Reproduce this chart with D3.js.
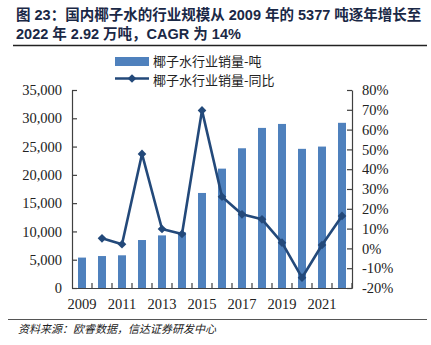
<!DOCTYPE html>
<html>
<head>
<meta charset="utf-8">
<script src="https://cdn.jsdelivr.net/npm/d3@7"></script>
<style>
  body { margin: 0; background: #fff; }
  svg { display: block; }
</style>
</head>
<body>
<svg width="431" height="345"></svg>
<script>
// 椰子水行业销量（吨）与同比增速
var years = ["2009", "2010", "2011", "2012", "2013", "2014", "2015", "2016", "2017", "2018", "2019", "2020", "2021", "2022"];
var volume = [5377, 5650, 5780, 8480, 9300, 9840, 16800, 21100, 24700, 28300, 29000, 24600, 25000, 29200];
var yoy = [null, 5.1, 2.1, 47.7, 9.8, 7.3, 69.7, 26.1, 17.2, 14.7, 2.9, -14.8, 1.7, 16.4];
var leftTicks = [0, 5000, 10000, 15000, 20000, 25000, 30000, 35000];
var rightTicks = [-20, -10, 0, 10, 20, 30, 40, 50, 60, 70, 80];
var xLabels = ["2009", "2011", "2013", "2015", "2017", "2019", "2021"];

var svg = d3.select("svg");
var serif = "'Liberation Serif', 'Times New Roman', serif";
var cjk = "'Noto Sans CJK SC', sans-serif";
var barColor = "#4f81bd",
    lineColor = "#23497a",
    axisColor = "#404040";

var plotLeft = 72, plotRight = 352, plotTop = 90, plotBottom = 288;

// title
var title = svg.append("g")
    .attr("font-family", "'Liberation Sans', " + cjk)
    .attr("font-weight", "bold")
    .attr("font-size", 14.5)
    .attr("fill", "#1a2846");
title.append("text").attr("x", 16).attr("y", 20)
    .text("图 23：国内椰子水的行业规模从 2009 年的 5377 吨逐年增长至");
title.append("text").attr("x", 16).attr("y", 39)
    .text("2022 年 2.92 万吨，CAGR 为 14%");
svg.append("line")
    .attr("x1", 13).attr("x2", 427).attr("y1", 45.5).attr("y2", 45.5)
    .attr("stroke", "#222").attr("stroke-width", 1.5);

var x = d3.scaleBand()
    .domain(years)
    .range([plotLeft, plotRight])
    .paddingInner(0.6)
    .paddingOuter(0.3);

var y = d3.scaleLinear().domain([0, 35000]).range([plotBottom, plotTop]);
var y2 = d3.scaleLinear().domain([-20, 80]).range([plotBottom, plotTop]);

// bars
svg.append("g")
  .selectAll("rect")
  .data(years)
  .enter().append("rect")
    .attr("x", function(d) { return x(d); })
    .attr("width", x.bandwidth())
    .attr("y", function(d, i) { return y(volume[i]); })
    .attr("height", function(d, i) { return y(0) - y(volume[i]); })
    .attr("fill", barColor);

// left axis
var yAxis = svg.append("g")
    .attr("transform", "translate(" + plotLeft + ",0)")
    .call(d3.axisLeft(y).tickValues(leftTicks).tickSizeInner(-5).tickSizeOuter(0)
      .tickPadding(10).tickFormat(d3.format(",")));

// right axis
var y2Axis = svg.append("g")
    .attr("transform", "translate(" + plotRight + ",0)")
    .call(d3.axisRight(y2).tickValues(rightTicks).tickSizeInner(-5).tickSizeOuter(0)
      .tickPadding(10).tickFormat(function(d) { return d + "%"; }));

// bottom axis: labels every other year, ticks at band boundaries
var xAxis = svg.append("g")
    .attr("transform", "translate(0," + plotBottom + ")")
    .call(d3.axisBottom(x).tickValues(xLabels).tickSize(0).tickPadding(8));

var half = (x.step() - x.bandwidth()) / 2;
var bounds = years.map(function(d) { return x(d) - half; }).slice(1)
    .concat([x(years[years.length - 1]) + x.bandwidth() + half]);
xAxis.selectAll("line.bound")
  .data(bounds)
  .enter().append("line")
    .attr("class", "bound")
    .attr("x1", function(d) { return d; }).attr("x2", function(d) { return d; })
    .attr("y1", 0).attr("y2", -5)
    .attr("stroke", axisColor);

[yAxis, y2Axis, xAxis].forEach(function(a) {
  a.selectAll("path, line").attr("stroke", axisColor).attr("stroke-width", 1.2);
  a.selectAll("text")
    .attr("font-family", serif)
    .attr("font-size", 14.5)
    .attr("fill", "#222");
});
xAxis.selectAll(".tick text").attr("dy", "0.9em");

// growth line
var pts = years.map(function(d, i) { return { year: d, v: yoy[i] }; })
    .filter(function(d) { return d.v !== null; });
var line = d3.line()
    .x(function(d) { return x(d.year) + x.bandwidth() / 2; })
    .y(function(d) { return y2(d.v); });

svg.append("path")
    .datum(pts)
    .attr("d", line)
    .attr("fill", "none")
    .attr("stroke", lineColor)
    .attr("stroke-width", 2.6)
    .attr("stroke-linejoin", "round");

var diamond = d3.symbol().type(d3.symbolDiamond2).size(48);
svg.append("g")
  .selectAll("path")
  .data(pts)
  .enter().append("path")
    .attr("d", diamond)
    .attr("transform", function(d) {
      return "translate(" + (x(d.year) + x.bandwidth() / 2) + "," + y2(d.v) + ")";
    })
    .attr("fill", lineColor);

// legend
var legend = svg.append("g")
    .attr("font-family", cjk)
    .attr("font-size", 13)
    .attr("fill", "#222");
legend.append("rect")
    .attr("x", 115).attr("y", 57).attr("width", 34).attr("height", 9)
    .attr("fill", barColor);
legend.append("text").attr("x", 153).attr("y", 65.5).text("椰子水行业销量-吨");
legend.append("line")
    .attr("x1", 115).attr("x2", 149).attr("y1", 78.5).attr("y2", 78.5)
    .attr("stroke", lineColor).attr("stroke-width", 2.6);
legend.append("path")
    .attr("d", diamond)
    .attr("transform", "translate(132,78.5)")
    .attr("fill", lineColor);
legend.append("text").attr("x", 153).attr("y", 84.5).text("椰子水行业销量-同比");

// source
svg.append("line")
    .attr("x1", 8).attr("x2", 427).attr("y1", 319.5).attr("y2", 319.5)
    .attr("stroke", "#555").attr("stroke-width", 1.2);
svg.append("text")
    .attr("x", 18).attr("y", 333)
    .attr("font-family", cjk)
    .attr("font-size", 11)
    .attr("font-style", "italic")
    .attr("fill", "#222")
    .text("资料来源：欧睿数据，信达证券研发中心");
</script>
</body>
</html>
